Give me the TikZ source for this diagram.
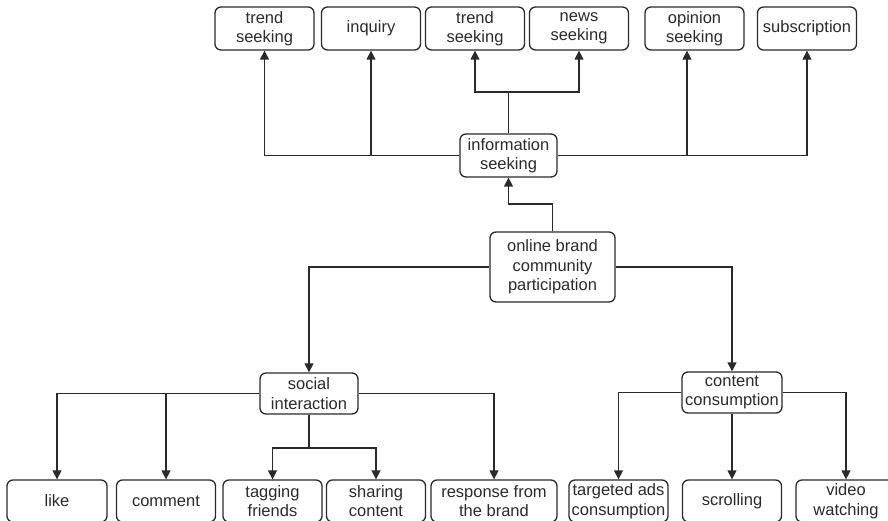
\documentclass[tikz,border=0pt]{standalone}
\usepackage{fontspec}
\setmainfont{Liberation Sans}
\usetikzlibrary{arrows.meta,positioning}
\definecolor{ink}{HTML}{2A2A2A}

\begin{document}
\begin{tikzpicture}[x=1pt,y=-1pt]
\tikzset{box/.style = {draw=ink,line width=1.3pt,rounded corners=6pt,align=center,inner sep=0pt,
  minimum width=99pt,minimum height=43pt,text=ink,font=\fontsize{16.5}{19.5}\selectfont}}
\tikzset{edge/.style = {draw=ink,line width=1.3pt,-{Triangle[length=9pt,width=9pt]}}}
\tikzset{link/.style = {draw=ink,line width=1.3pt}}
\useasboundingbox (0,0) rectangle (888,521);
% NODES
\node[box] (tsa) at (264.5,28.5) {trend\\seeking};
\node[box] (inq) at (371,28.5) {inquiry};
\node[box] (tsb) at (475,28.5) {trend\\seeking};
\node[box] (news) at (579,28.5) {news\\seeking};
\node[box] (opin) at (694.5,28.5) {opinion\\seeking};
\node[box] (subs) at (807,28.5) {subscription};
\node[box][minimum width=97pt] (info) at (508.5,155.5) {information\\seeking};
\node[box][minimum width=125pt,minimum height=70pt] (obcp) at (552.5,267) {online brand\\community\\participation};
\node[box][minimum width=98pt,minimum height=41pt] (social) at (309,393.5) {social\\interaction};
\node[box][minimum width=100pt,minimum height=41pt] (content) at (732,392.5) {content\\consumption};
\node[box][minimum width=100pt,minimum height=42pt] (like) at (57,501) {like};
\node[box][minimum height=42pt] (comm) at (166,501) {comment};
\node[box][minimum height=42pt] (tag) at (272.5,501) {tagging\\friends};
\node[box][minimum height=42pt] (share) at (376,501) {sharing\\content};
\node[box][minimum width=126pt,minimum height=42pt] (resp) at (494,501) {response from\\the brand};
\node[box][minimum height=42pt] (ads) at (618.5,501) {targeted ads\\consumption};
\node[box][minimum height=42pt] (scroll) at (732,501) {scrolling};
\node[box][minimum width=100pt,minimum height=42pt] (video) at (846,501) {video\\watching};
\coordinate (itop) at (508.5,92);
\coordinate (obtop) at (552.5,204);
\coordinate (sbot) at (309,448);
% EDGES
\draw[edge] (info) -| (tsa);
\draw[edge] (info) -| (inq);
\draw[link] (info) -- (itop);
\draw[edge] (itop) -| (tsb);
\draw[edge] (itop) -| (news);
\draw[edge] (info) -| ([xshift=-7.5pt]opin.south);
\draw[edge] (info) -| (subs);

\draw[link] (obcp) -- (obtop);
\draw[edge] (obtop) -| (info);
\draw[edge] (obcp) -| (social);
\draw[edge] (obcp) -| (content);

\draw[edge] (social) -| (like);
\draw[edge] (social) -| (comm);
\draw[link] (social) -- (sbot);
\draw[edge] (sbot) -| (tag);
\draw[edge] (sbot) -| (share);
\draw[edge] (social) -| (resp);

\draw[edge] (content) -| (ads);
\draw[edge] (content) -- (scroll);
\draw[edge] (content) -| (video);
\end{tikzpicture}
\end{document}
